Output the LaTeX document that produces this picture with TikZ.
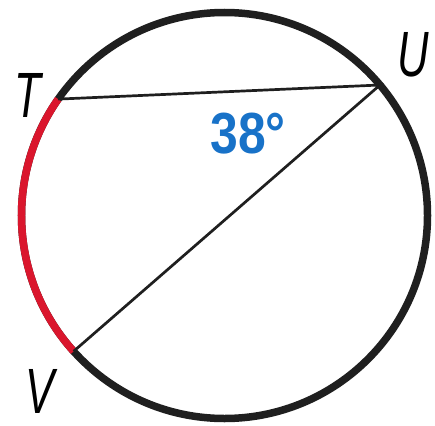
\documentclass[tikz,border=0pt]{standalone}
\usepackage{fontspec}
\setmainfont{Liberation Sans}
\definecolor{arcred}{RGB}{218,22,45}
\definecolor{angblue}{RGB}{24,114,200}
\begin{document}
\begin{tikzpicture}[x=1pt,y=-1pt,
  circ/.style={line width=7.5pt},
  chord/.style={line width=2.7pt},
  ptlabel/.style={inner sep=0pt, font=\fontsize{64}{64}\selectfont\itshape},
  anglabel/.style={inner sep=0pt, text=angblue, font=\fontsize{58}{58}\selectfont\bfseries}]
\useasboundingbox (0,0) rectangle (435,425);
\coordinate (O) at (224.5,215.5);
\coordinate (T) at (58.2,99.1);
\coordinate (U) at (380,85);
\coordinate (V) at (73.6,351.3);
\draw[circ, black!88] (O) circle[radius=203];
\draw[circ, arcred] (T) arc[start angle=215, end angle=138, radius=203];
\draw[chord, black!88] (T) -- (U) -- (V);
\node[ptlabel] (lT) at (28,95) {\scalebox{0.68}[1]{T}};
\node[ptlabel] (lU) at (413,55) {\scalebox{0.68}[1]{U}};
\node[ptlabel] (lV) at (40,391) {\scalebox{0.68}[1]{V}};
\node[anglabel] (a) at (248,134) {\scalebox{0.86}[1]{38°}};
\end{tikzpicture}
\end{document}
